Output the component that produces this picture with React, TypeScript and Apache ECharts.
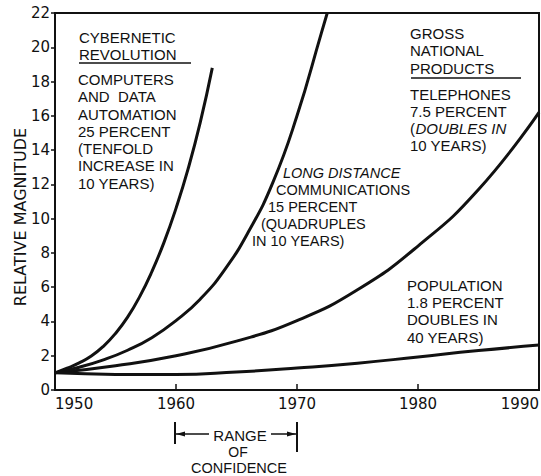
import React, { useEffect, useRef } from "react";
import * as echarts from "echarts";

// ---- Data ----
const xTicks = [1950, 1960, 1970, 1980, 1990];
const yTicks = [0, 2, 4, 6, 8, 10, 12, 14, 16, 18, 20, 22];

const computersYears = [1950, 1951, 1952, 1953, 1954, 1955, 1956, 1957, 1958, 1959, 1960, 1961, 1962, 1963];
const computersValues = [1.0, 1.27, 1.58, 1.98, 2.55, 3.3, 4.25, 5.45, 6.9, 8.6, 10.6, 12.9, 15.6, 18.8];

const longDistanceYears = [1950, 1952, 1954, 1956, 1958, 1960, 1962, 1964, 1966, 1968, 1970, 1972, 1972.5];
const longDistanceValues = [1.0, 1.33, 1.76, 2.32, 3.05, 4.05, 5.3, 7.0, 9.25, 12.1, 16.0, 20.8, 22.0];

const telephoneYears = [1950, 1955, 1960, 1965, 1970, 1975, 1980, 1985, 1990];
const telephoneValues = [1.0, 1.42, 2.0, 2.85, 4.05, 5.85, 8.4, 11.7, 16.2];

const populationYears = [1950, 1955, 1960, 1965, 1970, 1975, 1980, 1985, 1990];
const populationValues = [1.0, 0.91, 0.9, 1.05, 1.28, 1.56, 1.93, 2.3, 2.62];

const yAxisTitle = "RELATIVE MAGNITUDE";
const cyberneticHeading = ["CYBERNETIC", "REVOLUTION"];
const computersLabel = ["COMPUTERS", "AND  DATA", "AUTOMATION", "25 PERCENT", "(TENFOLD", "INCREASE IN", "10 YEARS)"];
const longDistanceLabel = ["LONG DISTANCE", "COMMUNICATIONS", "15 PERCENT", "(QUADRUPLES", "IN 10 YEARS)"];
const grossHeading = ["GROSS", "NATIONAL", "PRODUCTS"];
const telephoneLabel = ["TELEPHONES", "7.5 PERCENT", "(DOUBLES IN", "10 YEARS)"];
const populationLabel = ["POPULATION", "1.8 PERCENT", "DOUBLES IN", "40 YEARS)"];
const rangeLabel = ["RANGE", "OF", "CONFIDENCE"];

const zip = (xs: number[], ys: number[]) => xs.map((x, i) => [x, ys[i]]);

const FONT = "DejaVu Sans";
const NOTE_FONT = "Liberation Sans";
const INK = "#111";

function lineText(text: string, x: number, y: number, size = 15, extra: any = {}) {
  return {
    type: "text",
    x,
    y,
    silent: true,
    style: {
      text,
      fontFamily: NOTE_FONT,
      fontSize: size,
      lineHeight: 13,
      fill: INK,
      align: "left",
      verticalAlign: "middle",
      ...extra,
    },
  };
}

export default function App() {
  const ref = useRef<HTMLDivElement>(null);

  useEffect(() => {
    if (!ref.current) return;
    const chart = echarts.init(ref.current, undefined, { renderer: "svg" });

    const curveStyle = { color: INK, width: 3 };
    const mkSeries = (name: string, data: number[][]) => ({
      name,
      type: "line",
      data,
      smooth: 0.5,
      showSymbol: false,
      symbol: "none",
      clip: true,
      lineStyle: curveStyle,
      itemStyle: { color: INK },
      silent: true,
    });

    const graphics: any[] = [];
    // y axis title
    graphics.push({
      type: "text",
      x: 20,
      y: 217,
      rotation: Math.PI / 2,
      silent: true,
      style: {
        text: yAxisTitle,
        fontFamily: FONT,
        fontSize: 16,
        fill: INK,
        align: "center",
        verticalAlign: "middle",
      },
    });

    // Cybernetic block
    const cybY = [37, 54];
    cyberneticHeading.forEach((t, i) => graphics.push(lineText(t, 79, cybY[i])));
    graphics.push({ type: "line", silent: true, shape: { x1: 79, y1: 63, x2: 191, y2: 63 }, style: { stroke: INK, lineWidth: 1.5 } });
    computersLabel.forEach((t, i) => graphics.push(lineText(t, 78, 79.5 + i * 17.25)));

    // Long distance block (staggered along curve)
    const ldX = [283, 276, 268, 261, 252];
    const ldY = [172.5, 189.5, 206.5, 223.7, 241];
    longDistanceLabel.forEach((t, i) =>
      graphics.push(lineText(t, ldX[i], ldY[i], 14.5, i === 0 ? { fontStyle: "italic" } : {}))
    );

    // Gross national products block
    const gY = [33, 50.5, 68];
    grossHeading.forEach((t, i) => graphics.push(lineText(t, 410, gY[i])));
    graphics.push({ type: "line", silent: true, shape: { x1: 411, y1: 78, x2: 521, y2: 78 }, style: { stroke: INK, lineWidth: 1.5 } });
    const tY = [94, 111, 128, 145];
    telephoneLabel.forEach((t, i) => {
      if (i === 2) {
        graphics.push(lineText(t.slice(0, 1), 410, tY[i]));
        graphics.push(lineText(t.slice(1), 415.5, tY[i], 15, { fontStyle: "italic" }));
      } else {
        graphics.push(lineText(t, 410, tY[i]));
      }
    });

    // Population block
    const pY = [285.5, 302.5, 319.5, 337.5];
    populationLabel.forEach((t, i) => graphics.push(lineText(t, 407, pY[i])));

    // Range of confidence
    graphics.push(lineText(rangeLabel[0], 240, 435, 15, { align: "center", lineHeight: 12 }));
    graphics.push(lineText(rangeLabel[1], 238, 452, 14, { align: "center", lineHeight: 12 }));
    graphics.push(lineText(rangeLabel[2], 239, 468, 14.5, { align: "center", lineHeight: 11 }));
    const ink = { stroke: INK, lineWidth: 1.5 };
    graphics.push({ type: "line", silent: true, shape: { x1: 175, y1: 422, x2: 175, y2: 444 }, style: { stroke: INK, lineWidth: 2 } });
    graphics.push({ type: "line", silent: true, shape: { x1: 297, y1: 422, x2: 297, y2: 452 }, style: { stroke: INK, lineWidth: 2 } });
    graphics.push({ type: "line", silent: true, shape: { x1: 176, y1: 434, x2: 209, y2: 434 }, style: ink });
    graphics.push({ type: "line", silent: true, shape: { x1: 271, y1: 434, x2: 296, y2: 434 }, style: ink });
    graphics.push({ type: "polygon", silent: true, shape: { points: [[176, 434], [185, 431.5], [185, 436.5]] }, style: { fill: INK } });
    graphics.push({ type: "polygon", silent: true, shape: { points: [[296, 434], [287, 431.5], [287, 436.5]] }, style: { fill: INK } });

    chart.setOption({
      animation: false,
      backgroundColor: "#fff",
      textStyle: { fontFamily: FONT },
      grid: {
        left: 55,
        right: 2,
        top: 13,
        bottom: 86,
        show: true,
        borderColor: INK,
        borderWidth: 2,
        backgroundColor: "transparent",
        containLabel: false,
        outerBoundsMode: "none",
      },
      xAxis: {
        type: "value",
        min: xTicks[0],
        max: xTicks[xTicks.length - 1],
        interval: 10,
        axisLine: { show: true, lineStyle: { color: INK, width: 2 } },
        axisTick: { show: true, inside: true, length: 6, lineStyle: { color: INK, width: 1.5 } },
        axisLabel: {
          show: true,
          color: INK,
          fontFamily: FONT,
          fontSize: 15,
          margin: 6,
          alignMinLabel: "left",
          alignMaxLabel: "right",
          showMinLabel: true,
          showMaxLabel: true,
          formatter: (v: number) => String(v),
        },
        splitLine: { show: false },
      },
      yAxis: {
        type: "value",
        min: yTicks[0],
        max: yTicks[yTicks.length - 1],
        interval: 2,
        axisLine: { show: true, lineStyle: { color: INK, width: 2 } },
        axisTick: { show: true, inside: false, length: 4, lineStyle: { color: INK, width: 1.5 } },
        axisLabel: {
          show: true,
          color: INK,
          fontFamily: FONT,
          fontSize: 15,
          margin: 5,
          showMinLabel: true,
          showMaxLabel: true,
        },
        splitLine: { show: false },
      },
      series: [
        mkSeries("Computers", zip(computersYears, computersValues)),
        mkSeries("Long distance", zip(longDistanceYears, longDistanceValues)),
        mkSeries("Telephones", zip(telephoneYears, telephoneValues)),
        mkSeries("Population", zip(populationYears, populationValues)),
      ],
      graphic: graphics,
    });

    return () => chart.dispose();
  }, []);

  return (
    <div
      ref={ref}
      style={{ position: "absolute", left: 0, top: 0, width: 541, height: 476 }}
    />
  );
}
